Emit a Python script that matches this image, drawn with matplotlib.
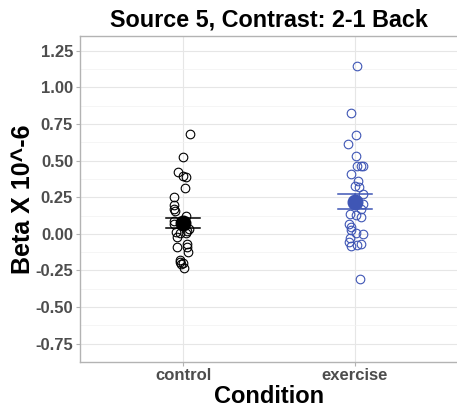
import matplotlib
matplotlib.use("Agg")
import matplotlib.pyplot as plt
import numpy as np

plt.rcParams['font.family'] = ['Liberation Sans', 'DejaVu Sans']

conditions = ["control", "exercise"]
colors = ["#000000", "#3F56B5"]

# individual betas (x 10^-6)
control_vals = [0.683, 0.525, 0.425, 0.398, 0.385, 0.312, 0.251, 0.195, 0.172, 0.155,
                0.123, 0.086, 0.064, 0.032, 0.021, 0.014, 0.003, 0.003, -0.024, -0.070,
                -0.088, -0.092, -0.121, -0.178, -0.190, -0.196, -0.205, -0.235]
control_jit = [0.04, 0.0, -0.03, 0.0, 0.02, 0.01, -0.05, -0.05, -0.055, -0.045,
               0.015, -0.055, -0.05, 0.035, 0.025, -0.04, -0.015, 0.02, -0.035, 0.025,
               -0.035, 0.025, 0.03, -0.02, -0.02, 0.0, -0.01, 0.005]

exercise_vals = [1.144, 0.823, 0.674, 0.611, 0.532, 0.466, 0.464, 0.460, 0.407, 0.362,
                 0.326, 0.321, 0.272, 0.206, 0.168, 0.134, 0.127, 0.116, 0.068, 0.046,
                 0.027, 0.007, -0.002, -0.031, -0.054, -0.068, -0.076, -0.081, -0.305]
exercise_jit = [0.01, -0.02, 0.005, -0.04, 0.005, 0.01, 0.035, 0.045, -0.02, 0.02,
                0.0, 0.025, 0.045, 0.05, 0.035, -0.03, 0.005, 0.035, -0.035, -0.02,
                -0.025, 0.005, 0.05, -0.03, -0.035, 0.035, 0.015, -0.02, 0.03]

means = [0.076, 0.218]
err_lo = [0.041, 0.172]
err_hi = [0.111, 0.269]

fig = plt.figure(figsize=(4.57, 4.08), dpi=100)
ax = fig.add_axes([0.175, 0.1127, 0.827, 0.799])

vals = [control_vals, exercise_vals]
jits = [control_jit, exercise_jit]
for i in range(2):
    x = np.full(len(vals[i]), i + 1.0) + np.array(jits[i])
    ax.plot(x, vals[i], 'o', mfc='none', mec=colors[i], ms=6.2, mew=0.8, zorder=3)
    ax.plot([i + 1 - 0.1, i + 1 + 0.1], [err_lo[i]] * 2, color=colors[i], lw=1.1, zorder=4)
    ax.plot([i + 1 - 0.1, i + 1 + 0.1], [err_hi[i]] * 2, color=colors[i], lw=1.1, zorder=4)
    ax.plot([i + 1, i + 1], [err_lo[i], err_hi[i]], color=colors[i], lw=1.1, zorder=4)
    ax.plot(i + 1, means[i], 'o', color=colors[i], ms=10.5, zorder=5)

ax.set_xlim(0.4, 2.6)
ax.set_ylim(-0.86, 1.35)
ax.set_xticks([1, 2])
ax.set_xticklabels(conditions)
yt = np.arange(-0.75, 1.26, 0.25)
ax.set_yticks(yt)
ax.set_yticklabels(["%.2f" % v for v in yt])
ax.set_yticks(np.arange(-0.875, 1.35, 0.25), minor=True)

ax.grid(True, which='major', color='#e6e6e6', lw=0.8, zorder=0)
ax.grid(True, which='minor', axis='y', color='#f2f2f2', lw=0.5, zorder=0)
ax.set_axisbelow(True)

for s in ['left', 'bottom', 'top']:
    ax.spines[s].set_color('#b3b3b3')
    ax.spines[s].set_linewidth(1.0)
ax.spines['right'].set_visible(False)

ax.tick_params(axis='both', which='major', length=3, width=0.8, color='#b3b3b3',
               labelsize=12, labelcolor='#4d4d4d', pad=2)
ax.tick_params(axis='x', which='major', pad=1)
ax.tick_params(axis='both', which='minor', length=0)
for lab in ax.get_xticklabels() + ax.get_yticklabels():
    lab.set_fontweight('bold')

ax.set_xlabel("Condition", fontsize=17, fontweight='bold', labelpad=1.5)
ax.set_ylabel("Beta X 10^-6", fontsize=18, fontweight='bold', labelpad=0)
ax.set_title("Source 5, Contrast: 2-1 Back", fontsize=16.8, fontweight='bold', pad=7)

fig.savefig("out.png", dpi=100)
